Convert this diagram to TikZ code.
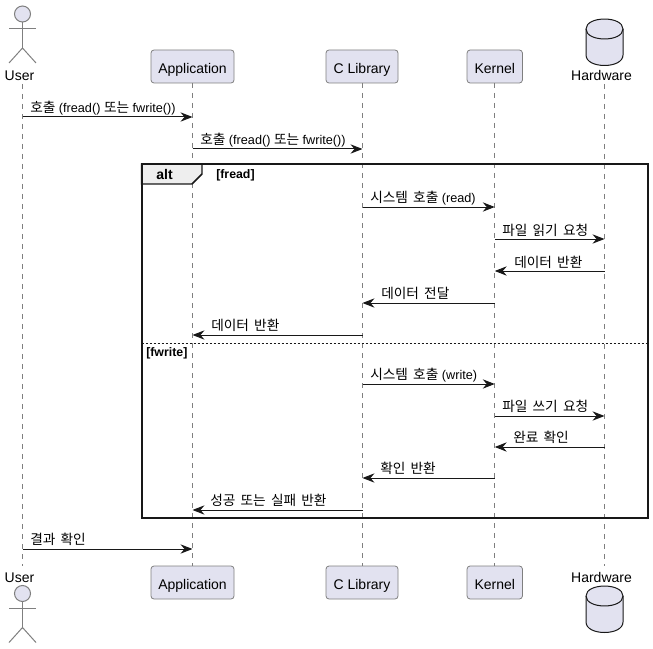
\documentclass[tikz,border=0pt]{standalone}
\usepackage{fontspec}
\setmainfont{Liberation Sans}
\newfontfamily\krfont{Noto Sans CJK KR}[Scale=1.08,WordSpace=1.7]
\usetikzlibrary{arrows.meta}
\definecolor{partfill}{HTML}{E2E2F0}
\definecolor{partline}{HTML}{7F7F7F}
\definecolor{inkline}{HTML}{181818}
\definecolor{tabfill}{HTML}{EEEEEE}
\newcommand{\kr}[1]{{\krfont #1}}
\tikzset{
  x=0.75pt,y=-0.75pt,
  partbox/.style={draw=partline,fill=partfill,rounded corners=2.25pt,line width=0.6pt,inner sep=0pt,text=black,font=\fontsize{10.5}{12}\selectfont,minimum height=24.75pt,text height=9.8pt,text depth=0pt},
  plabel/.style={inner sep=0pt,font=\fontsize{10.5}{12}\selectfont,text=black,anchor=base},
  lifeline/.style={draw=partline,line width=0.6pt,dash pattern=on 3.75pt off 3.75pt},
  msg/.style={draw=inkline,line width=0.75pt,-{Stealth[length=9pt,width=7pt,inset=3pt,fill=inkline]}},
  mlabel/.style={inner sep=0pt,anchor=base west,font=\fontsize{9.5}{12}\selectfont,text=black},
  actorline/.style={draw=partline,line width=0.75pt},
  framebox/.style={draw=inkline,line width=1.5pt},
  gtext/.style={inner sep=0pt,anchor=base west,font=\bfseries\fontsize{9.25}{10}\selectfont,text=black},
}
\newcommand{\actorfig}[2]{% x, head centre y
  \fill[partfill] (#1,#2) circle (6pt);
  \draw[actorline] (#1,#2) circle (6pt);
  \draw[actorline] (#1,#2+8) -- (#1,#2+34);
  \draw[actorline] (#1-13.5,#2+15) -- (#1+13.5,#2+15);
  \draw[actorline] (#1-13.5,#2+49) -- (#1,#2+34) -- (#1+13.5,#2+49);
}
\newcommand{\dbfig}[2]{% x, top y
  \draw[fill=partfill,draw=inkline,line width=0.75pt] (#1-18.5,#2+10)
    .. controls (#1-18.5,#2-3.3) and (#1+18.5,#2-3.3) .. (#1+18.5,#2+10)
    -- (#1+18.5,#2+36)
    .. controls (#1+18.5,#2+50) and (#1-18.5,#2+50) .. (#1-18.5,#2+36) -- cycle;
  \draw[draw=inkline,line width=0.75pt] (#1-18.5,#2+10)
    .. controls (#1-18.5,#2+23.3) and (#1+18.5,#2+23.3) .. (#1+18.5,#2+10);
}
\begin{document}
\begin{tikzpicture}
\useasboundingbox (0,0) rectangle (653,649);
% lifeline anchors
\coordinate (userT) at (22.5,84);
\coordinate (userB) at (22.5,566);
\coordinate (hwT) at (604.5,84);
\coordinate (hwB) at (604.5,566);
% lifelines first
\draw[lifeline] (userT) -- (userB);
\draw[lifeline] (192.5,83) -- (192.5,566);
\draw[lifeline] (362.5,83) -- (362.5,566);
\draw[lifeline] (494,83) -- (494,566);
\draw[lifeline] (hwT) -- (hwB);
% participants
\node[partbox,minimum width=62.25pt] (appT) at (192.5,66.5) {Application};
\node[partbox,minimum width=54pt] (libT) at (362,66.5) {C Library};
\node[partbox,minimum width=41.5pt] (kerT) at (494.75,66.5) {Kernel};
\node[partbox,minimum width=62.25pt] (appB) at (192.5,582.5) {Application};
\node[partbox,minimum width=54pt] (libB) at (362,582.5) {C Library};
\node[partbox,minimum width=41.5pt] (kerB) at (494.75,582.5) {Kernel};
\actorfig{22.5}{14}
\actorfig{22.5}{593.5}
\dbfig{604.5}{19}
\dbfig{604.5}{586}
\node[plabel] (userTL) at (19.5,81) {User};
\node[plabel] (userBL) at (19.5,582) {User};
\node[plabel] (hwTL) at (601.5,81) {Hardware};
\node[plabel] (hwBL) at (601.5,582) {Hardware};
% alt frame
\draw[framebox] (141.5,164) rectangle (648,518);
\draw[framebox,fill=tabfill,line width=1.1pt] (141.5,164) -- (202,164) -- (202,174) -- (192,184) -- (141.5,184) -- cycle;
\draw[framebox] (141.5,164) rectangle (648,518);
\node[inner sep=0pt,anchor=base,font=\bfseries\fontsize{10.5}{12}\selectfont] (altL) at (164.5,180) {alt};
\node[gtext] (g1) at (216,179) {[fread]};
\node[gtext] (g2) at (146,356) {[fwrite]};
\draw[inkline,line width=0.75pt,dash pattern=on 1.5pt off 1.5pt] (141.5,343.5) -- (648,343.5);
% rows
\foreach \n/\y in {1/117,2/149,3/207,4/239,5/271,6/303,7/335,8/384,9/416,10/447,11/478,12/510,13/549}
  \coordinate (r\n) at (0,\y);
% messages
\draw[msg] (userT |- r1) -- (appT |- r1);
\draw[msg] (appT |- r2) -- (362.5,149);
\draw[msg] (362.5,207) -- (kerT |- r3);
\draw[msg] (kerT |- r4) -- (hwT |- r4);
\draw[msg] (hwT |- r5) -- (kerT |- r5);
\draw[msg] (kerT |- r6) -- (362.5,303);
\draw[msg] (362.5,335) -- (appT |- r7);
\draw[msg] (362.5,384) -- (kerT |- r8);
\draw[msg] (kerT |- r9) -- (hwT |- r9);
\draw[msg] (hwT |- r10) -- (kerT |- r10);
\draw[msg] (kerT |- r11) -- (362.5,478);
\draw[msg] (362.5,510) -- (appT |- r12);
\draw[msg] (userT |- r13) -- (appT |- r13);
% labels
\node[mlabel] at (30,113) {\kr{호출} (fread() \kr{또는} fwrite())};
\node[mlabel] at (200,145) {\kr{호출} (fread() \kr{또는} fwrite())};
\node[mlabel] at (370,203) {\kr{시스템 호출} (read)};
\node[mlabel] at (502,235) {\kr{파일 읽기 요청}};
\node[mlabel] at (514,267) {\kr{데이터 반환}};
\node[mlabel] at (381,298) {\kr{데이터 전달}};
\node[mlabel] at (211,330) {\kr{데이터 반환}};
\node[mlabel] at (370,379) {\kr{시스템 호출} (write)};
\node[mlabel] at (502,411) {\kr{파일 쓰기 요청}};
\node[mlabel] at (513,442) {\kr{완료 확인}};
\node[mlabel] at (380,473) {\kr{확인 반환}};
\node[mlabel] at (210,505) {\kr{성공 또는 실패 반환}};
\node[mlabel] at (30,544) {\kr{결과 확인}};
\end{tikzpicture}
\end{document}
